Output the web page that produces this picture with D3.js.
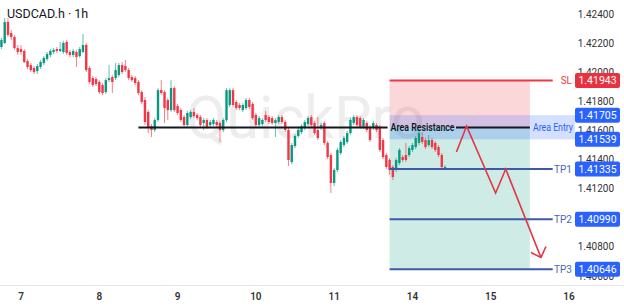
<!DOCTYPE html>
<html>
<head>
<meta charset="utf-8">
<script src="https://cdn.jsdelivr.net/npm/d3@7"></script>
<style>
  body { margin: 0; background: #fff; }
  svg { display: block; font-family: Roboto, "Noto Sans", sans-serif; }
</style>
</head>
<body>
<div id="chart"></div>
<script>
// hourly candles, first one sits 6 hours before day 7 opens
const firstHour = -6;
const opens = [1.42173,1.42201,1.42345,1.42269,1.42242,1.42166,1.42159,1.42146,1.42077,1.42049,
  1.42029,1.42008,1.42036,1.42063,1.42091,1.42118,1.42139,1.42159,1.42146,1.42139,
  1.42208,1.42139,1.42118,1.42139,1.42111,1.42139,1.42187,1.42029,1.41960,1.41953,
  1.41933,1.41912,1.41864,1.41946,1.41967,1.41960,1.41981,1.42049,1.42043,1.42015,
  1.41967,1.41960,1.41933,1.41864,1.41809,1.41727,1.41630,1.41603,1.41672,1.41877,
  1.41864,1.41809,1.41740,1.41891,1.41768,1.41740,1.41692,1.41637,1.41692,1.41727,
  1.41706,1.41692,1.41651,1.41672,1.41637,1.41644,1.41658,1.41651,1.41603,1.41672,
  1.41775,1.41877,1.41795,1.41775,1.41740,1.41754,1.41809,1.41782,1.41706,1.41637,
  1.41644,1.41706,1.41692,1.41685,1.41651,1.41658,1.41692,1.41658,1.41603,1.41383,
  1.41493,1.41562,1.41589,1.41617,1.41644,1.41692,1.41651,1.41603,1.41617,1.41651,
  1.41514,1.41431,1.41239,1.41328,1.41445,1.41500,1.41521,1.41582,1.41651,1.41692,
  1.41685,1.41624,1.41651,1.41624,1.41617,1.41637,1.41624,1.41534,1.41431,1.41397,
  1.41349,1.41328,1.41376,1.41417,1.41431,1.41431,1.41466,1.41486,1.41514,1.41555,
  1.41534,1.41500,1.41534,1.41514,1.41486,1.41431,1.41342];
const highs = [1.42235,1.42372,1.42372,1.42290,1.42256,1.42187,1.42187,1.42159,1.42091,1.42063,
  1.42043,1.42056,1.42084,1.42111,1.42139,1.42159,1.42166,1.42173,1.42208,1.42214,
  1.42221,1.42153,1.42159,1.42153,1.42173,1.42262,1.42201,1.42043,1.41974,1.41967,
  1.41946,1.41926,1.41960,1.42049,1.41981,1.42063,1.42063,1.42070,1.42084,1.42029,
  1.41981,1.41974,1.41946,1.41877,1.41830,1.41740,1.41644,1.41685,1.41891,1.41946,
  1.41877,1.41823,1.41946,1.41905,1.41782,1.41754,1.41706,1.41733,1.41740,1.41754,
  1.41720,1.41706,1.41685,1.41685,1.41672,1.41685,1.41672,1.41665,1.41685,1.41891,
  1.41891,1.41891,1.41809,1.41788,1.41788,1.41823,1.41823,1.41795,1.41720,1.41699,
  1.41685,1.41733,1.41706,1.41699,1.41685,1.41706,1.41706,1.41672,1.41617,1.41514,
  1.41575,1.41617,1.41644,1.41672,1.41699,1.41706,1.41665,1.41692,1.41651,1.41665,
  1.41527,1.41445,1.41342,1.41479,1.41534,1.41562,1.41596,1.41685,1.41706,1.41706,
  1.41699,1.41685,1.41665,1.41637,1.41665,1.41651,1.41637,1.41548,1.41445,1.41411,
  1.41362,1.41411,1.41479,1.41431,1.41514,1.41493,1.41514,1.41562,1.41610,1.41589,
  1.41548,1.41569,1.41548,1.41527,1.41500,1.41445,1.41362];
const lows = [1.42159,1.42194,1.42242,1.42221,1.42153,1.42118,1.42118,1.42063,1.42022,1.42001,
  1.41988,1.41988,1.42022,1.42049,1.42077,1.42104,1.42125,1.42132,1.42139,1.42125,
  1.42118,1.42104,1.42104,1.42036,1.42098,1.42132,1.42001,1.41919,1.41898,1.41905,
  1.41850,1.41843,1.41850,1.41933,1.41857,1.41946,1.41967,1.41988,1.42001,1.41946,
  1.41933,1.41912,1.41843,1.41782,1.41637,1.41582,1.41555,1.41589,1.41658,1.41843,
  1.41651,1.41672,1.41727,1.41727,1.41706,1.41658,1.41624,1.41624,1.41678,1.41685,
  1.41672,1.41624,1.41603,1.41610,1.41624,1.41630,1.41624,1.41521,1.41589,1.41658,
  1.41761,1.41761,1.41740,1.41740,1.41727,1.41740,1.41747,1.41672,1.41624,1.41624,
  1.41630,1.41658,1.41644,1.41637,1.41555,1.41644,1.41644,1.41589,1.41356,1.41369,
  1.41479,1.41548,1.41575,1.41603,1.41630,1.41624,1.41569,1.41534,1.41603,1.41500,
  1.41404,1.41170,1.41218,1.41314,1.41431,1.41486,1.41507,1.41569,1.41637,1.41624,
  1.41610,1.41610,1.41589,1.41521,1.41603,1.41589,1.41452,1.41404,1.41335,1.41294,
  1.41259,1.41314,1.41362,1.41383,1.41383,1.41417,1.41452,1.41472,1.41500,1.41507,
  1.41472,1.41486,1.41472,1.41452,1.41417,1.41328,1.41328];
const closes = [1.42221,1.42345,1.42256,1.42242,1.42166,1.42139,1.42139,1.42070,1.42036,1.42015,
  1.42001,1.42043,1.42070,1.42098,1.42125,1.42146,1.42153,1.42146,1.42159,1.42201,
  1.42132,1.42118,1.42146,1.42104,1.42159,1.42187,1.42015,1.41933,1.41912,1.41919,
  1.41864,1.41857,1.41946,1.41960,1.41933,1.42015,1.42049,1.42001,1.42015,1.41960,
  1.41946,1.41926,1.41857,1.41795,1.41658,1.41624,1.41603,1.41672,1.41877,1.41857,
  1.41754,1.41740,1.41891,1.41740,1.41720,1.41672,1.41637,1.41720,1.41727,1.41699,
  1.41685,1.41637,1.41672,1.41624,1.41658,1.41672,1.41637,1.41603,1.41672,1.41877,
  1.41877,1.41775,1.41754,1.41754,1.41775,1.41809,1.41761,1.41685,1.41637,1.41685,
  1.41672,1.41672,1.41658,1.41651,1.41672,1.41692,1.41658,1.41603,1.41397,1.41500,
  1.41562,1.41603,1.41630,1.41658,1.41685,1.41637,1.41582,1.41548,1.41637,1.41514,
  1.41417,1.41239,1.41328,1.41466,1.41521,1.41548,1.41582,1.41672,1.41692,1.41637,
  1.41624,1.41672,1.41603,1.41534,1.41651,1.41603,1.41466,1.41417,1.41349,1.41328,
  1.41280,1.41397,1.41466,1.41397,1.41397,1.41479,1.41500,1.41548,1.41582,1.41521,
  1.41486,1.41534,1.41486,1.41466,1.41431,1.41349,1.41349];

// axes
const dayLabels = ["7", "8", "9", "10", "11", "14", "15", "16"];
const dayHours = [0, 24, 48, 72, 96, 120, 144, 168];
const priceTicks = [1.424, 1.422, 1.420, 1.418, 1.416, 1.414, 1.412, 1.410, 1.408, 1.406];

// trade setup
const resistance = 1.41620;
const resistanceFrom = 36;
const entryPrice = 1.41622;
const zoneFrom = 113, zoneTo = 156, levelTo = 163;
const entryTop = 1.41705, entryBottom = 1.41539;
const levelNames = ["SL", "TP1", "TP2", "TP3"];
const levelPrices = [1.41943, 1.41335, 1.40990, 1.40646];
const tagPrices = [1.41943, 1.41705, 1.41539, 1.41335, 1.40990, 1.40646];
const pathHours = [133.5, 136.6, 145.5, 148.6, 159.4];
const pathPrices = [1.41452, 1.41630, 1.41170, 1.41335, 1.40727];

const width = 624, height = 307;
const up = "#089981", down = "#f23645", blue = "#2962ff", lineBlue = "#3d5aa8";
const axisLeft = 575;

const svg = d3.select("#chart").append("svg")
  .attr("width", width).attr("height", height);

const x = d3.scaleLinear().domain([0, 168]).range([21, 569]);
const y = d3.scaleLinear().domain([1.424, 1.406]).range([14, 276]);

// watermark
svg.append("text")
  .attr("x", 186).attr("y", 138)
  .attr("font-size", 59).attr("fill", "#ededed")
  .text("QuickPro");

// zones
svg.append("rect")
  .attr("x", x(zoneFrom)).attr("width", x(zoneTo) - x(zoneFrom))
  .attr("y", y(levelPrices[0])).attr("height", y(entryPrice) - y(levelPrices[0]))
  .attr("fill", down).attr("fill-opacity", 0.2);
svg.append("rect")
  .attr("x", x(zoneFrom)).attr("width", x(zoneTo) - x(zoneFrom))
  .attr("y", y(entryPrice)).attr("height", y(levelPrices[3]) - y(entryPrice))
  .attr("fill", up).attr("fill-opacity", 0.2);
svg.append("rect")
  .attr("x", x(zoneFrom)).attr("width", axisLeft - x(zoneFrom))
  .attr("y", y(entryTop)).attr("height", y(entryBottom) - y(entryTop))
  .attr("fill", blue).attr("fill-opacity", 0.2);

// candles
const candles = opens.map((o, i) => ({
  h: firstHour + i, o: o, hi: highs[i], lo: lows[i], c: closes[i]
}));
const cg = svg.append("g");
cg.selectAll("line").data(candles).enter().append("line")
  .attr("x1", d => x(d.h)).attr("x2", d => x(d.h))
  .attr("y1", d => y(d.hi)).attr("y2", d => y(d.lo))
  .attr("stroke", d => d.c >= d.o ? up : down).attr("stroke-width", 0.8)
  .attr("stroke-opacity", 0.8);
cg.selectAll("rect").data(candles).enter().append("rect")
  .attr("x", d => x(d.h) - 1.2).attr("width", 2.4)
  .attr("y", d => y(Math.max(d.o, d.c)))
  .attr("height", d => Math.max(1, Math.abs(y(d.o) - y(d.c))))
  .attr("fill", d => d.c >= d.o ? up : down);

// resistance line with label
svg.append("line")
  .attr("x1", x(resistanceFrom)).attr("x2", x(zoneFrom) - 2)
  .attr("y1", y(resistance)).attr("y2", y(resistance))
  .attr("stroke", "#131722").attr("stroke-width", 2);
svg.append("line")
  .attr("x1", 456).attr("x2", x(zoneTo))
  .attr("y1", y(resistance)).attr("y2", y(resistance))
  .attr("stroke", "#131722").attr("stroke-width", 2);
svg.append("text")
  .attr("x", x(zoneFrom) + 1).attr("y", y(resistance) + 3.6)
  .attr("font-size", 10.5).attr("font-weight", 600).attr("fill", "#131722")
  .attr("textLength", 64).attr("lengthAdjust", "spacingAndGlyphs")
  .text("Area Resistance");
svg.append("text")
  .attr("x", 533).attr("y", y(resistance) + 3.6)
  .attr("font-size", 10).attr("fill", blue)
  .attr("textLength", 40).attr("lengthAdjust", "spacingAndGlyphs")
  .text("Area Entry");

// SL / TP lines
levelPrices.forEach((p, i) => {
  const col = i === 0 ? down : lineBlue;
  svg.append("line")
    .attr("x1", x(zoneFrom)).attr("x2", x(levelTo))
    .attr("y1", y(p)).attr("y2", y(p))
    .attr("stroke", col).attr("stroke-width", 2);
  svg.append("text")
    .attr("x", 572).attr("y", y(p) + 3.5)
    .attr("text-anchor", "end")
    .attr("font-size", 10).attr("fill", i === 0 ? down : "#4a67b5")
    .text(levelNames[i]);
});

// projected path
const path = d3.line().x(d => x(d[0])).y(d => y(d[1]));
const pts = pathHours.map((h, i) => [h, pathPrices[i]]);
svg.append("path")
  .attr("d", path(pts))
  .attr("fill", "none").attr("stroke", "#e23645").attr("stroke-width", 1.6);
const tip = pts[pts.length - 1];
svg.append("path")
  .attr("d", `M${x(tip[0]) - 10},${y(tip[1]) - 5} L${x(tip[0])},${y(tip[1])} L${x(tip[0]) + 5},${y(tip[1]) - 11}`)
  .attr("fill", "none").attr("stroke", "#e23645").attr("stroke-width", 1.6);

// x axis
svg.append("line")
  .attr("x1", 0).attr("x2", width).attr("y1", 285.5).attr("y2", 285.5)
  .attr("stroke", "#e6e6e6");
svg.selectAll("text.day").data(dayLabels).enter().append("text")
  .attr("class", "day")
  .attr("x", (d, i) => x(dayHours[i])).attr("y", 300)
  .attr("text-anchor", "middle")
  .attr("font-size", 10).attr("font-weight", 600).attr("fill", "#333")
  .text(d => d);

// price axis
svg.selectAll("text.tick").data(priceTicks).enter().append("text")
  .attr("class", "tick")
  .attr("x", 614).attr("y", d => y(d) + 3.5)
  .attr("text-anchor", "end")
  .attr("font-size", 10).attr("fill", "#333")
  .text(d => d.toFixed(5));

// price tags
tagPrices.forEach((p, i) => {
  const g = svg.append("g");
  g.append("rect")
    .attr("x", axisLeft).attr("y", y(p) - 7.5)
    .attr("width", 45).attr("height", 15).attr("rx", 2)
    .attr("fill", i === 0 ? "#e8323f" : blue);
  g.append("text")
    .attr("x", axisLeft + 22.5).attr("y", y(p) + 3.8)
    .attr("text-anchor", "middle")
    .attr("font-size", 10.5).attr("fill", "#fff")
    .text(p.toFixed(5));
});

// title
svg.append("text")
  .attr("x", 7).attr("y", 18)
  .attr("font-size", 12.5).attr("fill", "#131722")
  .text("USDCAD.h · 1h");
</script>
</body>
</html>
